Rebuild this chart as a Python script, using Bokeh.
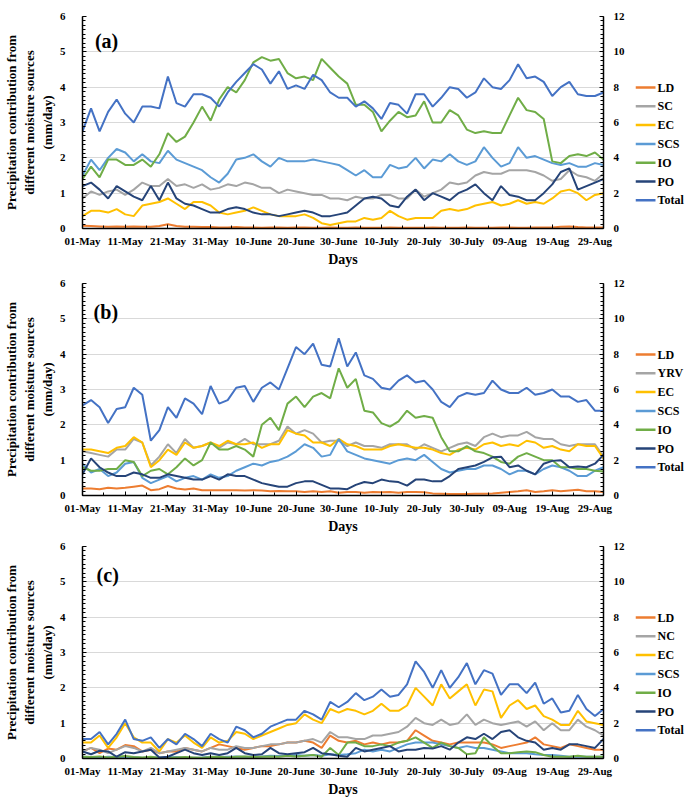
from bokeh.plotting import figure
from bokeh.models import (Range1d, LinearAxis, FixedTicker, SingleIntervalTicker, Label)
from bokeh.core.properties import value
from bokeh.layouts import column, row
from bokeh.embed import file_html
from bokeh.resources import INLINE

# ---------------- data ----------------
days = list(range(0, 123, 2))  # day index from 01-May
tick_days = [0, 10, 20, 30, 40, 50, 60, 70, 80, 90, 100, 110, 120]
tick_labels = ["01-May", "11-May", "21-May", "31-May", "10-June", "20-June", "30-June",
               "10-July", "20-July", "30-July", "09-Aug", "19-Aug", "29-Aug"]

# panel (a)
a_names = ["LD", "SC", "EC", "SCS", "IO", "PO"]
a_LD = [0.08,0.07,0.06,0.05,0.06,0.05,0.06,0.05,0.05,0.07,0.12,0.07,0.05,0.05,0.04,0.04,
        0.03,0.03,0.04,0.03,0.03,0.02,0.03,0.03,0.02,0.03,0.03,0.02,0.02,0.03,
        0.02,0.02,0.03,0.02,0.02,0.02,0.03,0.02,0.02,0.02,0.02,0.03,0.02,0.02,0.02,
        0.03,0.02,0.02,0.02,0.03,0.03,0.02,0.02,0.03,0.03,0.03,
        0.05,0.06,0.04,0.03,0.03,0.03]
a_SC = [0.85,1.05,0.95,1.05,1.1,0.95,1.1,1.3,1.2,1.2,1.4,1.2,1.25,1.15,1.25,1.1,
        1.15,1.25,1.2,1.3,1.25,1.15,1.15,1.0,1.1,1.05,1.0,0.95,0.95,0.85,0.85,
        0.8,0.9,0.85,0.85,0.95,0.95,0.85,0.85,1.1,0.9,1.0,1.1,1.3,1.25,1.3,
        1.5,1.6,1.55,1.55,1.65,1.65,1.65,1.6,1.5,1.35,1.4,1.65,1.5,1.45,1.35,1.55]
a_EC = [0.35,0.5,0.5,0.45,0.55,0.4,0.35,0.65,0.7,0.75,0.85,0.7,0.55,0.75,0.75,0.65,
        0.45,0.4,0.45,0.5,0.6,0.5,0.4,0.35,0.35,0.35,0.4,0.3,0.15,0.1,0.15,
        0.2,0.2,0.3,0.25,0.3,0.5,0.35,0.25,0.3,0.3,0.3,0.5,0.55,0.5,0.55,
        0.65,0.7,0.75,0.65,0.7,0.8,0.7,0.75,0.7,0.85,1.05,1.1,1.0,0.8,0.95,1.0]
a_SCS = [1.5,1.95,1.65,2.0,2.25,2.15,1.9,2.1,1.9,1.85,2.2,1.95,1.85,1.75,1.65,1.45,
         1.3,1.55,1.95,2.0,2.1,1.9,1.75,2.0,1.9,1.9,1.9,1.95,1.9,1.85,1.8,
         1.65,1.5,1.65,1.45,1.45,1.8,1.7,1.75,2.0,1.7,1.95,1.9,2.1,1.9,1.8,
         1.9,2.3,2.0,1.75,1.85,2.3,2.0,2.05,1.95,1.85,1.8,1.85,1.75,1.75,1.85,1.8]
a_IO = [1.4,1.75,1.45,1.95,1.95,1.8,1.8,1.95,1.75,2.1,2.7,2.45,2.6,3.0,3.45,3.05,
        3.65,4.0,3.85,4.2,4.7,4.85,4.75,4.8,4.4,4.25,4.3,4.2,4.8,4.55,4.3,
        4.1,3.5,3.5,3.3,2.75,3.05,3.3,3.15,3.2,3.6,3.0,3.0,3.35,3.2,2.8,
        2.7,2.75,2.7,2.7,3.2,3.7,3.35,3.3,3.1,1.9,1.85,2.05,2.1,2.05,2.15,1.95]
a_PO = [1.2,1.3,1.1,0.85,1.2,1.05,0.9,0.8,1.2,0.8,1.3,0.85,0.7,0.65,0.55,0.45,
        0.45,0.55,0.6,0.55,0.45,0.4,0.4,0.35,0.4,0.45,0.5,0.45,0.35,0.35,0.4,
        0.45,0.65,0.85,0.9,0.85,0.65,0.6,0.9,1.1,0.8,1.0,0.9,0.8,1.0,1.1,
        1.25,1.0,0.8,1.2,0.95,0.9,0.8,0.8,1.0,1.25,1.6,1.7,1.1,1.2,1.3,1.4]
a_Total = [5.5,6.8,5.5,6.6,7.3,6.5,6.0,6.9,6.9,6.8,8.6,7.1,6.9,7.6,7.6,7.4,
           6.9,7.7,8.3,8.8,9.3,9.0,8.2,8.9,7.9,8.1,7.9,8.7,8.4,7.7,7.4,
           7.4,6.9,7.2,6.8,6.2,7.1,7.0,6.5,7.6,7.6,6.9,7.4,8.0,7.9,7.4,
           7.7,8.5,8.0,7.9,8.4,9.3,8.5,8.6,8.3,7.5,8.0,8.3,7.6,7.5,7.5,7.7]

# panel (b)
b_names = ["LD", "YRV", "EC", "SCS", "IO", "PO"]
b_LD = [0.2,0.2,0.18,0.22,0.2,0.22,0.25,0.28,0.15,0.18,0.27,0.2,0.17,0.2,0.15,0.15,
        0.15,0.15,0.15,0.14,0.15,0.14,0.12,0.13,0.12,0.12,0.1,0.12,0.1,0.12,0.08,
        0.1,0.1,0.08,0.1,0.09,0.1,0.08,0.1,0.1,0.09,0.06,0.05,0.04,0.04,0.04,
        0.05,0.05,0.06,0.08,0.1,0.12,0.15,0.1,0.12,0.15,0.12,0.14,0.16,0.12,0.12,0.1]
b_YRV = [1.25,1.2,1.15,1.1,1.3,1.3,1.6,1.5,0.85,1.1,1.45,1.2,1.6,1.35,1.4,1.5,
         1.35,1.5,1.45,1.6,1.45,1.45,1.45,1.55,1.95,1.75,1.85,1.75,1.5,1.55,1.55,
         1.4,1.5,1.4,1.4,1.35,1.45,1.45,1.45,1.3,1.45,1.35,1.25,1.35,1.45,1.5,
         1.4,1.65,1.75,1.65,1.7,1.7,1.8,1.65,1.6,1.6,1.45,1.4,1.45,1.45,1.45,1.1]
b_EC = [1.3,1.3,1.25,1.2,1.35,1.4,1.65,1.5,0.8,1.0,1.3,1.15,1.5,1.35,1.4,1.5,
        1.4,1.55,1.45,1.45,1.5,1.35,1.45,1.45,1.85,1.75,1.7,1.5,1.5,1.4,1.6,
        1.45,1.4,1.3,1.3,1.3,1.4,1.45,1.4,1.35,1.35,1.3,1.2,1.15,1.3,1.35,
        1.3,1.45,1.5,1.4,1.45,1.4,1.55,1.5,1.35,1.4,1.3,1.25,1.45,1.4,1.4,1.05]
b_SCS = [0.9,0.65,0.75,0.55,0.65,0.9,0.95,0.5,0.35,0.45,0.55,0.4,0.5,0.55,0.45,0.6,
         0.5,0.55,0.7,0.8,0.9,0.85,0.95,1.0,1.1,1.25,1.45,1.35,1.1,1.15,1.6,
         1.25,1.15,1.05,1.0,0.95,0.9,1.0,1.05,1.0,1.15,0.95,0.75,0.65,0.7,0.75,
         0.75,0.85,0.85,0.75,0.6,0.7,0.7,0.6,0.75,0.85,0.8,0.7,0.55,0.55,0.7,0.8]
b_IO = [0.8,0.7,0.7,0.75,0.75,1.0,0.95,0.55,0.7,0.75,0.6,0.8,1.05,0.85,1.0,1.5,
        1.3,1.3,1.4,1.3,1.1,2.0,2.2,1.85,2.6,2.8,2.5,2.8,2.9,2.75,3.6,
        3.05,3.3,2.4,2.35,2.05,1.95,2.1,2.4,2.2,2.25,2.2,1.65,1.25,1.25,1.4,
        1.25,1.2,1.1,0.95,0.9,1.1,1.2,1.1,1.0,1.0,0.8,0.8,0.75,0.75,0.7,0.68]
b_PO = [0.6,1.05,0.8,0.65,0.55,0.55,0.65,0.6,0.5,0.5,0.6,0.55,0.5,0.45,0.45,0.55,
        0.45,0.6,0.55,0.55,0.45,0.35,0.3,0.25,0.25,0.35,0.4,0.4,0.3,0.2,0.2,
        0.18,0.3,0.38,0.35,0.45,0.4,0.38,0.28,0.45,0.45,0.4,0.4,0.55,0.75,0.8,
        0.85,0.95,1.08,1.1,0.8,0.85,0.7,0.6,0.9,0.98,1.0,0.8,0.82,0.8,0.9,1.15]
b_Total = [5.1,5.4,5.0,4.1,4.9,5.0,6.1,5.7,3.1,3.7,5.0,4.4,5.5,5.2,4.6,6.2,
           5.2,5.4,6.1,6.2,5.3,6.1,6.4,6.0,7.2,8.4,8.0,8.6,7.4,7.3,8.9,
           7.3,8.1,6.8,6.6,6.1,6.0,6.5,6.8,6.4,6.5,6.0,5.3,5.0,5.6,5.8,
           5.7,5.8,6.5,6.0,5.8,5.8,6.1,5.7,5.8,6.0,5.6,5.6,5.3,5.4,4.8,4.8]

# panel (c)
c_names = ["LD", "NC", "EC", "SCS", "IO", "PO"]
c_LD = [0.2,0.3,0.15,0.28,0.25,0.38,0.35,0.2,0.25,0.15,0.2,0.2,0.3,0.25,0.2,0.3,
        0.4,0.35,0.3,0.25,0.3,0.35,0.35,0.4,0.45,0.45,0.5,0.45,0.3,0.65,0.5,
        0.45,0.5,0.4,0.45,0.4,0.45,0.45,0.5,0.8,0.65,0.5,0.45,0.4,0.45,0.45,
        0.45,0.45,0.4,0.3,0.35,0.4,0.45,0.6,0.4,0.35,0.3,0.4,0.35,0.3,0.25,0.25]
c_NC = [0.2,0.3,0.25,0.15,0.25,0.35,0.3,0.2,0.3,0.15,0.2,0.25,0.3,0.25,0.2,0.3,
        0.25,0.25,0.35,0.3,0.3,0.35,0.4,0.4,0.45,0.45,0.5,0.55,0.45,0.75,0.6,
        0.6,0.55,0.55,0.65,0.65,0.7,0.75,0.9,1.15,1.0,0.95,1.1,0.95,1.0,1.25,
        0.95,1.1,1.0,0.95,1.0,1.05,0.9,1.05,0.8,1.0,0.8,0.8,1.1,0.9,0.8,0.65]
c_EC = [0.45,0.45,0.65,0.3,0.6,1.0,0.6,0.45,0.45,0.2,0.55,0.45,0.65,0.45,0.3,0.6,
        0.45,0.5,0.75,0.7,0.55,0.65,0.75,0.85,0.95,1.0,1.25,1.1,1.0,1.4,1.3,
        1.4,1.35,1.25,1.35,1.55,1.35,1.35,1.5,2.0,1.75,1.5,2.1,1.7,1.9,2.1,
        1.5,1.95,1.9,1.15,1.5,1.65,1.4,1.5,1.2,1.1,0.95,0.95,1.35,1.05,1.0,0.95]
c_SCS = [0.05,0.04,0.03,0.05,0.04,0.03,0.04,0.02,0.03,0.02,0.03,0.04,0.03,0.02,0.03,0.05,
         0.04,0.05,0.06,0.05,0.05,0.06,0.08,0.07,0.08,0.1,0.08,0.1,0.08,0.12,0.1,
         0.12,0.15,0.25,0.2,0.25,0.2,0.3,0.4,0.45,0.45,0.45,0.4,0.35,0.3,0.35,
         0.3,0.3,0.25,0.2,0.15,0.15,0.15,0.12,0.1,0.1,0.08,0.05,0.06,0.05,0.05,0.05]
c_IO = [0.05,0.04,0.06,0.03,0.05,0.07,0.04,0.03,0.05,0.02,0.03,0.03,0.04,0.03,0.02,0.04,
        0.05,0.03,0.05,0.06,0.04,0.05,0.06,0.05,0.08,0.06,0.08,0.1,0.05,0.3,0.1,
        0.45,0.45,0.35,0.35,0.4,0.35,0.45,0.5,0.6,0.45,0.3,0.45,0.35,0.3,0.12,
        0.15,0.6,0.35,0.15,0.15,0.18,0.2,0.18,0.1,0.05,0.05,0.05,0.08,0.05,0.05,0.05]
c_PO = [0.2,0.12,0.22,0.2,0.05,0.18,0.15,0.2,0.25,0.03,0.05,0.15,0.25,0.15,0.1,0.15,
        0.1,0.15,0.3,0.15,0.1,0.12,0.3,0.15,0.12,0.15,0.18,0.3,0.15,0.12,0.08,
        0.05,0.3,0.2,0.25,0.3,0.35,0.2,0.25,0.25,0.3,0.28,0.35,0.25,0.45,0.6,
        0.55,0.7,0.55,0.75,0.8,0.6,0.5,0.45,0.25,0.3,0.25,0.4,0.4,0.35,0.3,0.55]
c_Total = [1.1,1.1,1.5,0.8,1.4,2.2,1.1,1.0,1.2,0.6,1.1,0.8,1.4,1.1,0.7,1.4,
           1.1,0.9,1.8,1.6,1.2,1.4,1.8,2.0,2.2,2.2,2.7,2.5,2.2,3.2,2.9,
           3.2,3.7,3.3,3.5,3.9,3.5,3.6,4.2,5.5,4.9,4.0,5.0,4.0,4.6,5.4,
           4.2,5.0,4.8,3.6,4.2,4.2,3.7,4.3,3.1,3.4,2.6,2.7,3.6,2.8,2.4,2.8]

# ---------------- style ----------------
colors = ["#ED7D31", "#A5A5A5", "#FFC000", "#5B9BD5", "#70AD47", "#264478"]
total_color = "#4472C4"
FONT = "Liberation Serif"
YLABEL = "Precipitation contribution from\ndifferent moisture sources\n(mm/day)"
FRAME_W, FRAME_H = 521, 212
LEFT_B, RIGHT_B = 76, 32
LEG_W = 54


def make_panel(tag, tag_x, tag_y, series, total, top, bottom):
    p = figure(frame_width=FRAME_W, frame_height=FRAME_H, output_backend="svg",
               toolbar_location=None, min_border_left=LEFT_B, min_border_right=RIGHT_B,
               min_border_top=top, min_border_bottom=bottom,
               x_range=Range1d(0, 122), y_range=Range1d(0, 6))
    p.extra_y_ranges = {"right": Range1d(0, 12)}
    p.outline_line_color = None
    p.background_fill_color = "white"
    p.border_fill_color = "white"
    p.xgrid.grid_line_color = None
    p.ygrid.grid_line_color = "#D9D9D9"
    p.ygrid.grid_line_width = 1

    xa = p.xaxis[0]
    xa.ticker = FixedTicker(ticks=tick_days, minor_ticks=[d + 5 for d in tick_days[:-1]])
    xa.major_label_overrides = {d: lab for d, lab in zip(tick_days, tick_labels)}
    xa.axis_label = "Days"
    ya = p.yaxis[0]
    ya.ticker = SingleIntervalTicker(interval=1, num_minor_ticks=8)
    ya.axis_label = YLABEL
    ra = LinearAxis(y_range_name="right",
                    ticker=SingleIntervalTicker(interval=2, num_minor_ticks=8))
    p.add_layout(ra, "right")

    for ax in (xa, ya, ra):
        ax.axis_line_color = "black"
        ax.axis_line_width = 1.5
        ax.major_tick_in = 4
        ax.major_tick_out = 0
        ax.minor_tick_in = 3
        ax.minor_tick_out = 0
        ax.major_tick_line_color = "black"
        ax.minor_tick_line_color = "black"
        ax.major_label_text_font = FONT
        ax.major_label_text_font_style = "bold"
        ax.major_label_text_font_size = "11px"
        ax.major_label_text_color = "black"
        ax.axis_label_text_font = FONT
        ax.axis_label_text_font_style = "bold"
        ax.axis_label_text_color = "black"
    xa.major_label_standoff = 6
    xa.axis_label_standoff = 2
    xa.axis_label_text_font_size = "14px"
    ya.major_label_standoff = 17
    ya.axis_label_standoff = 2
    ya.axis_label_text_font_size = "13px"
    ra.major_label_standoff = 10

    for vals, col in zip(series, colors):
        p.line(days, vals, line_color=col, line_width=2)
    p.line(days, total, line_color=total_color, line_width=2, y_range_name="right")

    p.add_layout(Label(x=tag_x, y=tag_y, text=tag, text_baseline="middle",
                       text_font=FONT, text_font_style="bold",
                       text_font_size="20px", text_color="black"))
    return p


def make_legend(names, top, bottom):
    # side figure with the same vertical borders as its panel; data units = pixels
    lf = figure(frame_width=LEG_W, frame_height=FRAME_H, output_backend="svg",
                toolbar_location=None, x_axis_type=None, y_axis_type=None,
                min_border_left=0, min_border_right=0,
                min_border_top=top, min_border_bottom=bottom,
                x_range=Range1d(0, LEG_W), y_range=Range1d(0, FRAME_H))
    lf.outline_line_color = None
    lf.background_fill_color = "white"
    lf.border_fill_color = "white"
    labels = names + ["Total"]
    cols = colors + [total_color]
    first_y = FRAME_H - 71          # first row ~71 px below the frame top
    ys = [first_y - 18.8 * i for i in range(len(labels))]
    lf.segment(x0=[0] * len(ys), y0=ys, x1=[20] * len(ys), y1=ys,
               line_color=cols, line_width=2.5)
    lf.text(x=[22] * len(ys), y=ys, text=labels, text_baseline="middle",
            text_align="left", text_font=value(FONT), text_font_style="bold",
            text_font_size="12px", text_color="black")
    return lf


# border sizes (top, bottom) per panel
TOP_A, BOT_A = 16, 44
TOP_B, BOT_B = 11, 44
TOP_C, BOT_C = 7, 42

sa = [a_LD, a_SC, a_EC, a_SCS, a_IO, a_PO]
sb = [b_LD, b_YRV, b_EC, b_SCS, b_IO, b_PO]
sc = [c_LD, c_NC, c_EC, c_SCS, c_IO, c_PO]

pa = make_panel("(a)", 2.9, 5.32, sa, a_Total, TOP_A, BOT_A)
pb = make_panel("(b)", 2.6, 5.18, sb, b_Total, TOP_B, BOT_B)
pc = make_panel("(c)", 3.3, 5.18, sc, c_Total, TOP_C, BOT_C)

la = make_legend(a_names, TOP_A, BOT_A)
lb = make_legend(b_names, TOP_B, BOT_B)
lc = make_legend(c_names, TOP_C, BOT_C)

layout = column(row(pa, la, spacing=0), row(pb, lb, spacing=0),
                row(pc, lc, spacing=0), spacing=0)
open("out.html", "w").write(file_html(layout, INLINE))
